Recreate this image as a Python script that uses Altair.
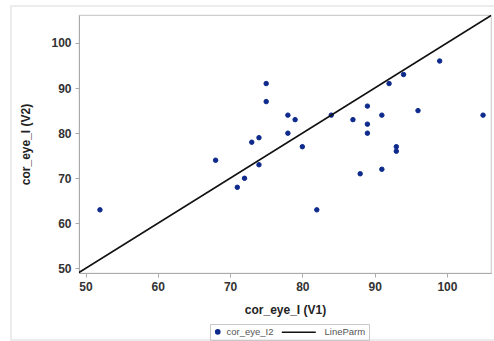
import altair as alt
import pandas as pd

# data
v1 = [52, 68, 71, 72, 73, 74, 74, 75, 75, 78, 78, 79, 80, 82, 84, 87, 88,
      89, 89, 89, 91, 91, 92, 93, 93, 94, 96, 99, 105]
v2 = [63, 74, 68, 70, 78, 79, 73, 91, 87, 84, 80, 83, 77, 63, 84, 83, 71,
      86, 82, 80, 84, 72, 91, 77, 76, 93, 85, 96, 84]
line_x = [49, 106.3]
line_y = [49, 106.3]
series = ["cor_eye_I2", "LineParm"]
ticks = [50, 60, 70, 80, 90, 100]

pts = pd.DataFrame({"x": v1, "y": v2, "s": series[0]})
ln = pd.DataFrame({"x": line_x, "y": line_y, "s": series[1]})

xs = alt.Scale(domain=[49.1, 106.1], nice=False, zero=False)
ys = alt.Scale(domain=[49.0, 106.2], nice=False, zero=False)
col = alt.Scale(domain=series, range=["#0d2a8c", "#111111"])
shp = alt.Scale(domain=series, range=["circle", "M-16,0H0"])

legend = alt.Legend(
    title=None, orient="none", legendX=131, legendY=309, direction="horizontal",
    columns=2, strokeColor="#c8c8c8", padding=3, labelFontSize=9.5,
    labelColor="#555", labelFont="Liberation Sans", columnPadding=4,
    symbolStrokeWidth=1.5, labelOffset=4, symbolSize=18)

xax = alt.Axis(values=ticks, title="cor_eye_I (V1)", grid=False)
yax = alt.Axis(values=ticks, title="cor_eye_I (V2)", grid=False)

# faint outer frame around the whole figure (decoration)
frame = alt.Chart(pd.DataFrame({"a": [0]})).mark_rect(
    fill=None, stroke="#e6e6e6", strokeWidth=1.5, clip=False).encode(
    x=alt.value(-68), x2=alt.value(420), y=alt.value(-9), y2=alt.value(325))

points = alt.Chart(pts).mark_point(filled=False, strokeWidth=1, size=20,
                                   opacity=1).encode(
    x=alt.X("x:Q", scale=xs, axis=xax),
    y=alt.Y("y:Q", scale=ys, axis=yax),
    color=alt.Color("s:N", scale=col, legend=legend),
    fill=alt.Fill("s:N", scale=col, legend=legend),
    shape=alt.Shape("s:N", scale=shp, legend=legend),
)
line = alt.Chart(ln).mark_line(strokeWidth=1.6, clip=True).encode(
    x="x:Q", y="y:Q",
    color=alt.Color("s:N", scale=col, legend=legend),
)

chart = alt.layer(frame, points, line).properties(
    width=412, height=258,
    autosize=alt.AutoSizeParams(type="none"),
    padding={"left": 79, "top": 15, "right": 3, "bottom": 68},
).configure_view(stroke="#cfcfcf", strokeWidth=1.2).configure_axis(
    labelFont="Liberation Sans", labelFontSize=12, labelColor="#333",
    labelFontWeight="bold", labelPadding=4,
    titleFont="Liberation Sans", titleFontSize=12, titleColor="#222",
    titleFontWeight="bold", domainColor="#aaa", tickColor="#aaa", tickSize=4,
).configure_axisX(titlePadding=12).configure_axisY(titlePadding=18)

chart.save("out.html", embed_options={"renderer": "svg", "actions": False})
